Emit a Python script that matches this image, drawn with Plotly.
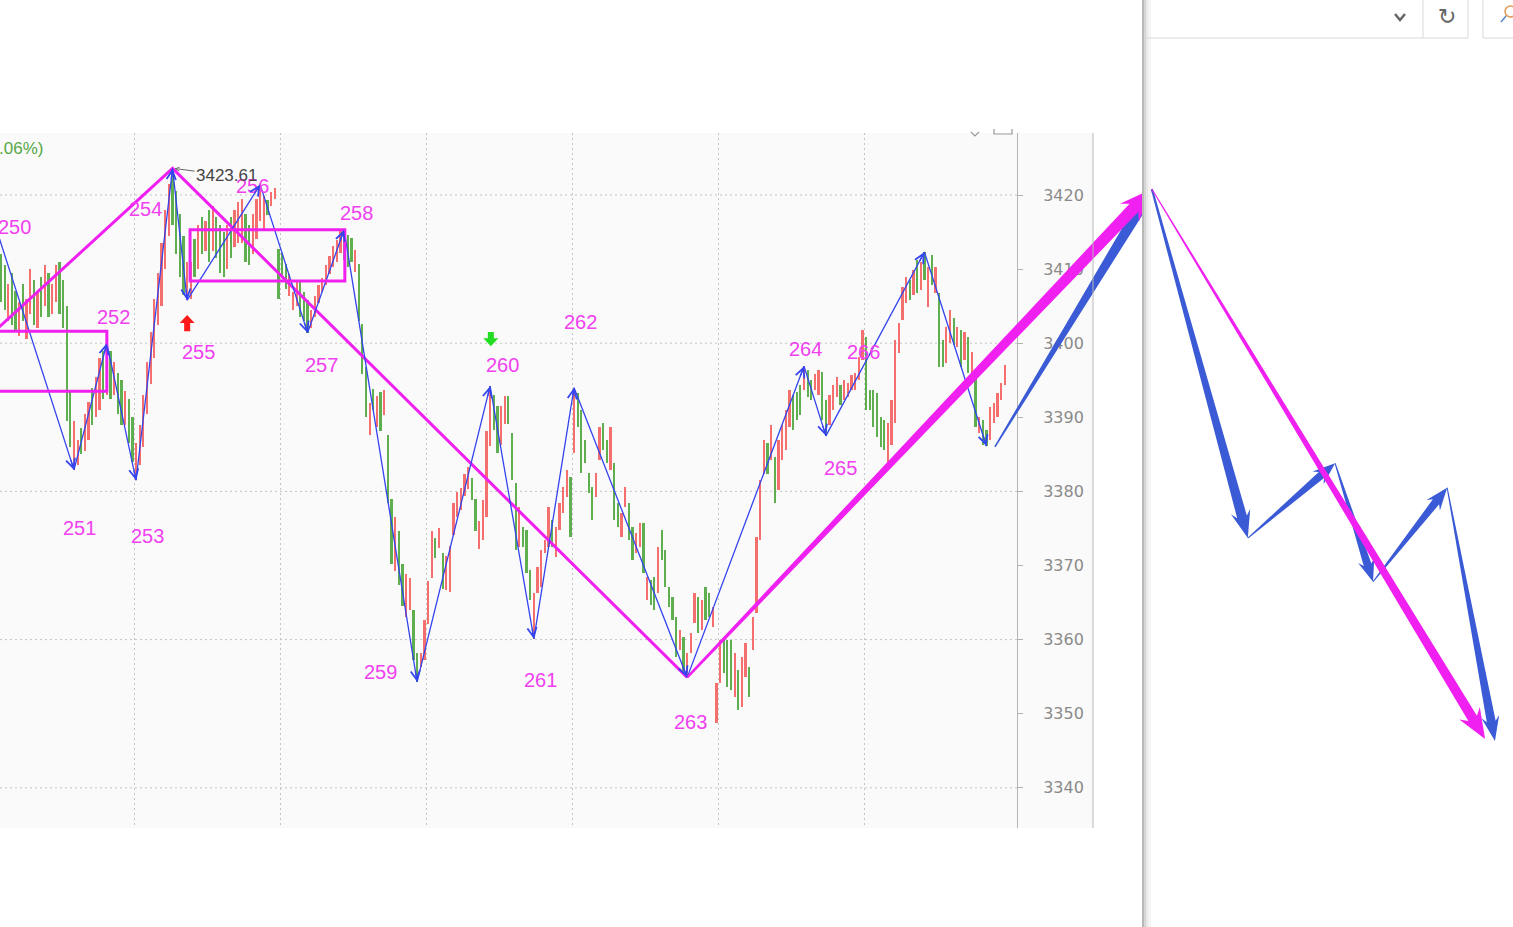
import math
import plotly.graph_objects as go

# ------------------------------------------------------------------ data
bar_high = [
    3412.0, 3410.5, 3408.0, 3409.5, 3407.0, 3405.5, 3408.0, 3406.0, 3410.0, 3408.5,
    3407.0, 3409.0, 3410.5, 3409.5, 3408.0, 3410.5, 3411.0, 3408.5, 3405.0, 3393.5,
    3389.5, 3387.0, 3388.5, 3390.5, 3392.0, 3394.0, 3395.5, 3398.0, 3399.0, 3400.0,
    3399.0, 3397.5, 3396.0, 3395.0, 3393.5, 3392.5, 3390.0, 3386.5, 3389.0, 3393.0,
    3397.5, 3401.5, 3406.0, 3409.5, 3413.5, 3418.0, 3421.5, 3423.6, 3420.5, 3417.5,
    3414.5, 3411.0, 3411.0, 3414.0, 3416.0, 3417.0, 3416.5, 3418.0, 3418.5, 3417.0,
    3416.0, 3415.0, 3416.0, 3417.0, 3418.0, 3419.0, 3419.5, 3417.5, 3416.0, 3417.5,
    3419.5, 3421.4, 3419.9, 3419.3, 3420.4, 3421.0, 3412.7, 3412.2, 3410.7, 3409.3,
    3406.9, 3408.4, 3408.4, 3406.9, 3405.8, 3404.5, 3406.4, 3407.9, 3408.8, 3410.6,
    3411.8, 3413.1, 3413.9, 3415.1, 3415.3, 3414.6, 3414.2, 3412.6, 3410.7, 3402.6,
    3396.8, 3391.9, 3393.8, 3392.9, 3393.4, 3393.7, 3387.6, 3379.0, 3376.5, 3374.7,
    3370.2, 3368.9, 3368.3, 3364.0, 3358.2, 3358.2, 3362.6, 3367.9, 3374.7, 3373.7,
    3375.1, 3371.7, 3371.3, 3372.6, 3378.4, 3379.9, 3380.5, 3382.4, 3383.3, 3381.8,
    3379.0, 3376.0, 3378.8, 3388.2, 3394.2, 3393.0, 3391.5, 3391.5, 3392.9, 3392.9,
    3387.9, 3381.1, 3377.9, 3375.2, 3374.8, 3369.4, 3366.3, 3369.8, 3372.1, 3373.4,
    3377.9, 3376.1, 3375.2, 3378.4, 3380.6, 3382.9, 3382.0, 3394.0, 3393.3, 3391.0,
    3386.9, 3382.5, 3380.6, 3382.5, 3388.7, 3389.2, 3386.9, 3388.7, 3383.8, 3378.4,
    3377.1, 3380.6, 3378.4, 3375.2, 3374.4, 3375.7, 3375.7, 3368.4, 3368.0, 3368.4,
    3372.5, 3374.8, 3372.1, 3367.1, 3365.8, 3363.0, 3361.3, 3360.3, 3358.2, 3360.9,
    3366.3, 3365.8, 3365.3, 3367.1, 3366.3, 3364.4, 3354.2, 3359.9, 3360.3, 3359.9,
    3359.9, 3358.2, 3355.9, 3357.7, 3359.5, 3356.3, 3363.1, 3373.9, 3381.5, 3386.9,
    3386.5, 3389.0, 3384.6, 3386.9, 3389.0, 3391.0, 3393.7, 3393.0, 3393.4, 3394.4,
    3396.9, 3396.4, 3395.0, 3395.9, 3396.4, 3396.1, 3392.3, 3393.0, 3394.4, 3395.4,
    3394.4, 3395.0, 3394.6, 3395.7, 3396.0, 3398.1, 3401.8, 3400.8, 3393.7, 3393.7,
    3393.3, 3390.0, 3389.6, 3389.2, 3392.3, 3400.4, 3402.7, 3407.6, 3408.9, 3408.5,
    3409.9, 3411.2, 3411.0, 3412.3, 3410.3, 3411.9, 3410.3, 3406.8, 3400.4, 3402.2,
    3404.5, 3403.4, 3402.2, 3401.8, 3401.5, 3400.8, 3398.8, 3395.4, 3390.0, 3389.6,
    3388.3, 3391.4, 3391.9, 3393.3, 3394.6, 3397.1,
]
bar_low = [
    3405.5, 3404.5, 3403.0, 3402.5, 3401.5, 3401.0, 3403.0, 3400.5, 3404.0, 3402.5,
    3402.0, 3403.5, 3405.0, 3403.5, 3404.0, 3405.5, 3404.0, 3402.0, 3389.5, 3386.0,
    3382.9, 3383.5, 3385.0, 3385.5, 3387.0, 3389.0, 3390.0, 3391.0, 3392.5, 3393.0,
    3392.5, 3393.0, 3390.5, 3389.0, 3389.0, 3386.5, 3384.0, 3381.5, 3383.5, 3386.0,
    3390.5, 3394.5, 3398.0, 3402.5, 3405.0, 3410.0, 3414.5, 3416.0, 3412.0, 3409.0,
    3406.5, 3405.8, 3406.0, 3409.0, 3410.0, 3412.0, 3412.5, 3411.0, 3412.5, 3411.5,
    3409.5, 3409.0, 3410.0, 3411.5, 3413.0, 3413.5, 3413.5, 3411.0, 3410.5, 3412.0,
    3414.0, 3416.5, 3415.1, 3417.3, 3418.5, 3419.5, 3406.0, 3408.8, 3407.3, 3406.4,
    3404.5, 3405.0, 3403.5, 3403.0, 3401.4, 3402.1, 3403.5, 3405.4, 3406.9, 3407.9,
    3409.3, 3410.3, 3411.0, 3412.2, 3411.2, 3410.3, 3411.0, 3409.6, 3403.0, 3395.8,
    3390.0, 3387.6, 3391.0, 3388.7, 3388.2, 3390.3, 3378.4, 3370.2, 3369.3, 3367.4,
    3364.5, 3363.0, 3364.0, 3357.2, 3354.3, 3356.3, 3357.2, 3362.1, 3368.3, 3371.0,
    3372.4, 3366.8, 3366.7, 3366.4, 3374.1, 3376.5, 3377.5, 3379.4, 3380.3, 3378.8,
    3374.7, 3372.2, 3373.4, 3376.5, 3386.1, 3388.3, 3385.2, 3386.3, 3389.1, 3389.1,
    3381.5, 3372.1, 3372.5, 3372.5, 3369.0, 3365.3, 3360.1, 3366.3, 3367.1, 3371.7,
    3372.5, 3372.5, 3371.2, 3374.8, 3377.1, 3379.3, 3373.9, 3385.2, 3388.7, 3382.5,
    3383.8, 3379.8, 3376.1, 3379.3, 3384.2, 3385.6, 3383.8, 3382.9, 3376.1, 3375.2,
    3373.9, 3377.9, 3373.4, 3370.7, 3371.7, 3372.5, 3369.0, 3365.3, 3364.7, 3364.0,
    3366.3, 3370.7, 3367.1, 3364.4, 3362.6, 3357.7, 3358.6, 3355.5, 3354.9, 3358.2,
    3362.2, 3360.9, 3361.3, 3362.6, 3363.0, 3361.7, 3348.7, 3354.2, 3355.5, 3353.6,
    3353.2, 3352.3, 3350.5, 3350.9, 3354.9, 3352.3, 3358.6, 3363.6, 3373.4, 3382.4,
    3382.4, 3384.2, 3378.4, 3380.2, 3384.2, 3385.6, 3388.7, 3388.3, 3389.6, 3390.3,
    3393.7, 3392.7, 3392.3, 3393.7, 3393.0, 3389.6, 3387.5, 3389.0, 3391.0, 3392.7,
    3391.7, 3392.3, 3392.7, 3393.7, 3393.7, 3395.0, 3397.7, 3391.0, 3391.0, 3388.7,
    3387.3, 3386.0, 3385.6, 3383.8, 3386.3, 3389.2, 3398.7, 3403.1, 3405.4, 3405.8,
    3406.5, 3406.8, 3407.2, 3408.5, 3404.9, 3407.9, 3406.8, 3396.8, 3396.8, 3397.3,
    3400.0, 3399.8, 3399.5, 3396.8, 3397.7, 3396.0, 3394.6, 3388.7, 3387.9, 3386.3,
    3386.1, 3386.9, 3389.2, 3390.0, 3392.3, 3394.4,
]
# 1 = rising bar (red), 0 = falling bar (green)
bar_up = [
    0, 0, 1, 0, 0, 1, 0, 1, 1, 0,
    1, 0, 1, 0, 1, 1, 0, 0, 0, 0,
    1, 1, 0, 1, 1, 0, 1, 1, 0, 1,
    0, 1, 0, 0, 1, 0, 0, 1, 1, 1,
    1, 1, 1, 1, 1, 1, 1, 0, 0, 0,
    0, 1, 1, 0, 1, 0, 1, 0, 1, 0,
    0, 0, 1, 0, 1, 1, 1, 0, 0, 1,
    1, 1, 1, 0, 1, 1, 0, 0, 0, 1,
    1, 1, 0, 0, 0, 1, 1, 1, 1, 1,
    1, 1, 1, 1, 0, 0, 0, 1, 0, 0,
    0, 1, 0, 1, 0, 1, 0, 0, 1, 0,
    0, 1, 1, 0, 0, 1, 1, 1, 1, 0,
    1, 0, 1, 1, 1, 1, 1, 1, 1, 0,
    0, 1, 1, 1, 1, 0, 0, 1, 1, 0,
    0, 0, 1, 0, 0, 0, 1, 1, 1, 1,
    1, 0, 1, 1, 1, 1, 0, 1, 0, 0,
    0, 0, 0, 1, 1, 0, 0, 1, 0, 0,
    1, 1, 0, 0, 1, 1, 0, 1, 0, 0,
    1, 0, 0, 0, 0, 0, 1, 0, 1, 1,
    1, 0, 1, 0, 0, 1, 1, 1, 0, 0,
    0, 1, 0, 1, 1, 0, 1, 1, 1, 1,
    0, 1, 0, 1, 1, 1, 1, 0, 0, 0,
    1, 0, 0, 1, 1, 0, 0, 1, 1, 1,
    0, 1, 1, 1, 1, 1, 1, 0, 0, 0,
    0, 0, 0, 1, 1, 1, 1, 1, 1, 0,
    1, 0, 1, 0, 1, 0, 1, 0, 0, 1,
    1, 0, 1, 0, 1, 0, 1, 0, 1, 0,
    0, 1, 1, 1, 1, 1,
]

# blue zigzag pivots (bar index, price)
zz_idx = [-2, 20, 29, 37, 47, 51, 71, 84, 94, 114, 134, 146, 157, 188, 220, 226, 253, 270]
zz_price = [3416.5, 3382.9, 3400.0, 3381.5, 3423.6, 3405.8, 3421.4, 3401.4, 3415.3,
            3354.3, 3394.2, 3360.1, 3394.0, 3354.9, 3396.9, 3387.5, 3412.3, 3386.1]

# wave labels
wave_labels = ["250", "251", "252", "253", "254", "255", "256", "257", "258",
               "259", "260", "261", "262", "263", "264", "265", "266"]
label_idx = [3.6, 21.4, 30.7, 40.0, 39.7, 54.0, 69.0, 87.7, 97.3,
             104.1, 137.3, 147.9, 158.9, 189.0, 220.5, 229.9, 236.2]
label_price = [3415.7, 3375.1, 3403.5, 3374.0, 3418.1, 3398.8, 3421.2, 3397.1, 3417.6,
               3355.6, 3397.1, 3354.5, 3402.9, 3348.9, 3399.2, 3383.2, 3398.8]

# higher-degree (magenta) wave
mag_idx = [-4, 47, 188]
mag_price = [3400.6, 3423.6, 3354.9]

# consolidation boxes
box_x0 = [-5, 51.8]
box_x1 = [29, 94.2]
box_lo = [3393.5, 3408.4]
box_hi = [3401.6, 3415.3]

# buy / sell signal arrows (tail -> tip)
signal_idx = [51, 134.2]
signal_tail = [3401.6, 3401.5]
signal_tip = [3403.8, 3399.6]
signal_color = ["#ff1a1a", "#22dd22"]

peak_idx, peak_price, peak_text = 47, 3423.61, "3423.61"

# projected paths (bar index beyond last bar, price)
fc_mag_idx = [188, 315.3, 406.6]
fc_mag_price = [3354.9, 3420.8, 3346.6]
fc_blue_idx = [272.3, 315.3, 341.6, 365.5, 375.9, 396.2, 409.3]
fc_blue_price = [3386.0, 3420.8, 3373.7, 3383.8, 3367.8, 3380.5, 3346.3]

y_ticks = [3340, 3350, 3360, 3370, 3380, 3390, 3400, 3410, 3420]
y_grid = [3340, 3360, 3380, 3400, 3420]
x_grid_idx = [36.5, 76.5, 116.5, 156.5, 196.5, 236.5]

# ------------------------------------------------------------------ geometry
W, H = 1513, 927
PLOT_TOP, PLOT_BOTTOM, PLOT_RIGHT = 133, 828, 1017
AXIS_BOX_RIGHT = 1093
PANEL_X = 1142
BAR0_PX, PX_PER_BAR = 1.0, 3.65
REF_PRICE, REF_PX, PX_PER_PT = 3420.0, 195.0, 7.41


def px_x(i):
    return BAR0_PX + PX_PER_BAR * i


def px_y(p):
    return REF_PX + (REF_PRICE - p) * PX_PER_PT


def idx_of(X):
    return (X - BAR0_PX) / PX_PER_BAR


def price_of(Y):
    return REF_PRICE - (Y - REF_PX) / PX_PER_PT


def fx(X):
    return X / W


def fy(Y):
    return 1 - Y / H


x_range_main = [idx_of(0), idx_of(PLOT_RIGHT)]
x_range_full = [idx_of(0), idx_of(W)]
y_range = [price_of(PLOT_BOTTOM), price_of(PLOT_TOP)]
y_domain = [1 - PLOT_BOTTOM / H, 1 - PLOT_TOP / H]


def arrow_poly(i0, p0, i1, p1, w0, w1, hl, hw, barb=0.25):
    x0, y0 = px_x(i0), px_y(p0)
    x1, y1 = px_x(i1), px_y(p1)
    dx, dy = x1 - x0, y1 - y0
    L = math.hypot(dx, dy)
    ux, uy = dx / L, dy / L
    nx, ny = -uy, ux
    bx, by = x1 - ux * hl, y1 - uy * hl
    cx, cy = bx - ux * hl * barb, by - uy * hl * barb
    pts = [
        (x0 + nx * w0 / 2, y0 + ny * w0 / 2),
        (bx + nx * w1 / 2, by + ny * w1 / 2),
        (cx + nx * hw / 2, cy + ny * hw / 2),
        (x1, y1),
        (cx - nx * hw / 2, cy - ny * hw / 2),
        (bx - nx * w1 / 2, by - ny * w1 / 2),
        (x0 - nx * w0 / 2, y0 - ny * w0 / 2),
        (x0 + nx * w0 / 2, y0 + ny * w0 / 2),
    ]
    return [idx_of(a) for a, b in pts], [price_of(b) for a, b in pts]


RED, GREEN = "#f56f6f", "#5fae50"
BLUE_ZZ = "#3344ee"
MAG = "#f020f0"
LABEL_MAG = "#f040f0"
BLUE_FC = "#3b5bd6"

fig = go.Figure()

# bars
fig.add_trace(go.Bar(
    x=list(range(len(bar_high))),
    y=[h - l for h, l in zip(bar_high, bar_low)],
    base=bar_low,
    width=0.62,
    marker=dict(color=[RED if u else GREEN for u in bar_up], line=dict(width=0)),
    xaxis="x", yaxis="y", hoverinfo="skip",
))

# magenta higher-degree wave
fig.add_trace(go.Scatter(x=mag_idx, y=mag_price, mode="lines",
                         line=dict(color=MAG, width=3), xaxis="x", yaxis="y",
                         hoverinfo="skip"))

# blue zigzag
fig.add_trace(go.Scatter(x=zz_idx, y=zz_price, mode="lines",
                         line=dict(color=BLUE_ZZ, width=1.3), xaxis="x", yaxis="y",
                         hoverinfo="skip"))

# signal arrows
for i, t0, t1, c in zip(signal_idx, signal_tail, signal_tip, signal_color):
    xs, ys = arrow_poly(i, t0, i, t1, 6, 6, 8, 15, barb=0.0)
    fig.add_trace(go.Scatter(x=xs, y=ys, mode="lines", fill="toself",
                             fillcolor=c, line=dict(width=0, color=c),
                             xaxis="x", yaxis="y", hoverinfo="skip"))

# projection arrows (overlay axes spanning the whole page)
blue_styles = [(1.5, 11, 24, 22), (2, 10, 22, 20), (1, 8, 18, 17), (1, 8, 18, 17),
               (1, 8, 18, 17), (1, 9, 20, 18)]
for k in range(len(fc_blue_idx) - 1):
    w0, w1, hl, hw = blue_styles[k]
    xs, ys = arrow_poly(fc_blue_idx[k], fc_blue_price[k], fc_blue_idx[k + 1],
                        fc_blue_price[k + 1], w0, w1, hl, hw)
    fig.add_trace(go.Scatter(x=xs, y=ys, mode="lines", fill="toself",
                             fillcolor=BLUE_FC, line=dict(width=0, color=BLUE_FC),
                             xaxis="x2", yaxis="y2", hoverinfo="skip"))
mag_styles = [(2.5, 12, 26, 26), (1, 10, 24, 24)]
for k in range(len(fc_mag_idx) - 1):
    w0, w1, hl, hw = mag_styles[k]
    xs, ys = arrow_poly(fc_mag_idx[k], fc_mag_price[k], fc_mag_idx[k + 1],
                        fc_mag_price[k + 1], w0, w1, hl, hw)
    fig.add_trace(go.Scatter(x=xs, y=ys, mode="lines", fill="toself",
                             fillcolor=MAG, line=dict(width=0, color=MAG),
                             xaxis="x2", yaxis="y2", hoverinfo="skip"))

annotations = []
# wave labels
for t, i, p in zip(wave_labels, label_idx, label_price):
    annotations.append(dict(x=i, y=p, xref="x", yref="y", text=t, showarrow=False,
                            font=dict(family="Liberation Sans", size=20, color=LABEL_MAG)))
# zigzag arrow heads
for k in range(1, len(zz_idx)):
    x0, y0 = px_x(zz_idx[k - 1]), px_y(zz_price[k - 1])
    x1, y1 = px_x(zz_idx[k]), px_y(zz_price[k])
    L = math.hypot(x1 - x0, y1 - y0)
    ux, uy = (x1 - x0) / L, (y1 - y0) / L
    annotations.append(dict(x=zz_idx[k], y=zz_price[k], xref="x", yref="y", text="",
                            showarrow=True, ax=-ux * 12, ay=-uy * 12,
                            arrowhead=5, arrowsize=1.4, arrowwidth=1.3,
                            arrowcolor=BLUE_ZZ, standoff=0))
# peak price label
annotations.append(dict(x=peak_idx, y=peak_price, xref="x", yref="y", text=peak_text,
                        showarrow=True, ax=54, ay=7, arrowhead=5, arrowsize=0.8,
                        arrowwidth=1, arrowcolor="#666", standoff=2,
                        font=dict(family="Liberation Sans", size=17, color="#444")))
# cropped header text
annotations.append(dict(x=fx(45), y=fy(148), xref="paper", yref="paper", text="(+0.06%)",
                        xanchor="right", yanchor="middle", showarrow=False,
                        font=dict(family="Liberation Sans", size=17, color="#55a845")))
# toolbar refresh icon
annotations.append(dict(x=fx(1447), y=fy(17), xref="paper", yref="paper", text="↻",
                        showarrow=False, xanchor="center", yanchor="middle",
                        font=dict(family="DejaVu Sans", size=22, color="#666")))

shapes = []
# chart background
shapes.append(dict(type="rect", xref="paper", yref="paper", x0=0, x1=fx(AXIS_BOX_RIGHT),
                   y0=fy(PLOT_BOTTOM), y1=fy(PLOT_TOP), fillcolor="#fafafa",
                   line=dict(width=0), layer="below"))
# outer axis box line
shapes.append(dict(type="line", xref="paper", yref="paper", x0=fx(AXIS_BOX_RIGHT),
                   x1=fx(AXIS_BOX_RIGHT), y0=fy(PLOT_BOTTOM), y1=fy(PLOT_TOP),
                   line=dict(color="#b8b8b8", width=1)))
# horizontal dotted grid
for v in y_grid:
    shapes.append(dict(type="line", xref="x domain", yref="y", x0=0, x1=1, y0=v, y1=v,
                       line=dict(color="#c4c4c4", width=1, dash="2px,3px"), layer="below"))
# consolidation boxes
for a, b, lo, hi in zip(box_x0, box_x1, box_lo, box_hi):
    shapes.append(dict(type="rect", xref="x", yref="y", x0=a, x1=b, y0=lo, y1=hi,
                       line=dict(color=MAG, width=3), fillcolor="rgba(0,0,0,0)"))
# panel divider with shadow
for X, w, c in [(PANEL_X, 2, "#b8b8b8"), (PANEL_X + 2, 2, "#d6d6d6"),
                (PANEL_X + 4, 2, "#e8e8e8"), (PANEL_X + 6, 3, "#f4f4f4")]:
    shapes.append(dict(type="rect", xref="paper", yref="paper", x0=fx(X), x1=fx(X + w),
                       y0=0, y1=1, fillcolor=c, line=dict(width=0)))
# toolbar lines
for (xa, ya, xb, yb) in [(PANEL_X + 2, 38, 1468, 38), (1423, 0, 1423, 38),
                         (1468, 0, 1468, 38), (1483, 0, 1483, 38), (1483, 38, W, 38)]:
    shapes.append(dict(type="line", xref="paper", yref="paper", x0=fx(xa), x1=fx(xb),
                       y0=fy(ya), y1=fy(yb), line=dict(color="#d9d9d9", width=1)))
# toolbar chevron
shapes.append(dict(type="path", xref="paper", yref="paper",
                   path=f"M{fx(1395)},{fy(14)} L{fx(1400)},{fy(20)} L{fx(1405)},{fy(14)}",
                   line=dict(color="#666", width=2.5)))
# search icon fragment
shapes.append(dict(type="circle", xref="paper", yref="paper", x0=fx(1505), x1=fx(1516),
                   y0=fy(17), y1=fy(6), line=dict(color="#e09a5a", width=1.5)))
shapes.append(dict(type="line", xref="paper", yref="paper", x0=fx(1501), x1=fx(1506),
                   y0=fy(22), y1=fy(16), line=dict(color="#5a86c8", width=1.5)))
# cropped chart-toolbar icons
shapes.append(dict(type="path", xref="paper", yref="paper",
                   path=f"M{fx(971)},{fy(132)} L{fx(975)},{fy(136)} L{fx(979)},{fy(132)}",
                   line=dict(color="#999", width=1.2)))
shapes.append(dict(type="path", xref="paper", yref="paper",
                   path=f"M{fx(994)},{fy(129)} L{fx(994)},{fy(134)} L{fx(1012)},{fy(134)} L{fx(1012)},{fy(129)}",
                   line=dict(color="#999", width=1.2)))

fig.update_layout(
    width=W, height=H,
    margin=dict(l=0, r=0, t=0, b=0),
    paper_bgcolor="white",
    plot_bgcolor="rgba(0,0,0,0)",
    showlegend=False,
    bargap=0,
    xaxis=dict(domain=[0, PLOT_RIGHT / W], range=x_range_main, anchor="y",
               showticklabels=False, ticks="", tickvals=x_grid_idx,
               showgrid=True, gridcolor="#c4c4c4", griddash="2px,3px", gridwidth=1,
               zeroline=False, showline=False, fixedrange=True),
    yaxis=dict(domain=y_domain, range=y_range, anchor="x", side="right",
               tickvals=y_ticks, ticks="outside", ticklen=5, tickcolor="#b0b0b0",
               ticklabelstandoff=17,
               tickfont=dict(family="DejaVu Sans", size=16, color="#8a8a8a"),
               showgrid=False, zeroline=False, showline=True, linecolor="#b4b4b4",
               linewidth=1, fixedrange=True),
    xaxis2=dict(domain=[0, 1], range=x_range_full, anchor="y2", visible=False,
                fixedrange=True),
    yaxis2=dict(domain=y_domain, range=y_range, anchor="x2", visible=False,
                fixedrange=True),
    annotations=annotations,
    shapes=shapes,
)

fig.write_html("out.html", config={"displayModeBar": False, "responsive": False},
               post_script="document.body.style.margin='0';")
